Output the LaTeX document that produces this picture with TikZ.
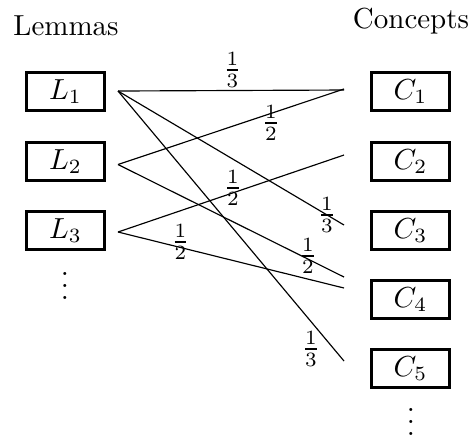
\documentclass[tikz,border=0pt]{standalone}
\usepackage{amsmath}
\begin{document}
\begin{tikzpicture}[x=0.345pt,y=-0.345pt,
  boxnode/.style={draw,line width=0.9pt,minimum width=27.1pt,minimum height=13.3pt,inner sep=0pt},
  lbl/.style={inner sep=0pt},
  edge/.style={line width=0.4pt}]
\useasboundingbox (0,0) rectangle (470,438);
% headings
\node[anchor=base,inner sep=0pt] (lem) at (66,35) {Lemmas};
\node[anchor=base,inner sep=0pt] (con) at (411,28) {Concepts};
% boxes
\node[boxnode] (L1) at (65.5,91.5) {$L_1$};
\node[boxnode] (L2) at (65.5,161.5) {$L_2$};
\node[boxnode] (L3) at (65.5,230.5) {$L_3$};
\node[boxnode] (C1) at (410.5,91.5) {$C_1$};
\node[boxnode] (C2) at (410.5,161.5) {$C_2$};
\node[boxnode] (C3) at (410.5,230.5) {$C_3$};
\node[boxnode] (C4) at (410.5,299.5) {$C_4$};
\node[boxnode] (C5) at (410.5,368.5) {$C_5$};
% dots
\node[anchor=base,inner sep=0pt] (ldots) at (65,299) {$\vdots$};
\node[anchor=base,inner sep=0pt] (rdots) at (411,435) {$\vdots$};
% connector ends
\coordinate (s1) at (118,91);
\coordinate (s2) at (118,164.5);
\coordinate (s3) at (118,232);
\coordinate (e1a) at (344,90);
\coordinate (e1b) at (344,89);
\coordinate (e2) at (344,155);
\coordinate (e3) at (344,225);
\coordinate (e4a) at (344,277);
\coordinate (e4b) at (344,288);
\coordinate (e5) at (344,361);
% connectors
\draw[edge] (s1) -- (e1a);
\draw[edge] (s1) -- (e3);
\draw[edge] (s1) -- (e5);
\draw[edge] (s2) -- (e1b);
\draw[edge] (s2) -- (e4a);
\draw[edge] (s3) -- (e2);
\draw[edge] (s3) -- (e4b);
% weights
\node[lbl] (w1) at (232.5,70) {$\frac{1}{3}$};
\node[lbl] (w2) at (271,123) {$\frac{1}{2}$};
\node[lbl] (w3) at (327,215) {$\frac{1}{3}$};
\node[lbl] (w4) at (308,256) {$\frac{1}{2}$};
\node[lbl] (w5) at (311,349) {$\frac{1}{3}$};
\node[lbl] (w6) at (233,188) {$\frac{1}{2}$};
\node[lbl] (w7) at (180.5,242) {$\frac{1}{2}$};
\end{tikzpicture}
\end{document}
